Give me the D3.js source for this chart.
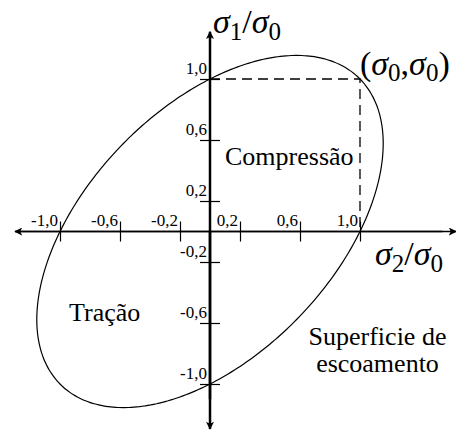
<!DOCTYPE html>
<html>
<head>
<meta charset="utf-8">
<script src="https://cdn.jsdelivr.net/npm/d3@7"></script>
<style>
  html, body { margin: 0; padding: 0; background: #fff; }
  svg { display: block; }
  text { font-family: "Liberation Serif", "Times New Roman", serif; fill: #000; }
</style>
</head>
<body>
<svg id="chart" width="456" height="432"></svg>
<script>
// Tick values on each stress axis (normalised by the yield stress σ0)
const xTickValues = [-1.0, -0.6, -0.2, 0.2, 0.6, 1.0];
const yTickValues = [1.0, 0.6, 0.2, -0.2, -0.6, -1.0];
// Von Mises yield surface: semi-axes of the ellipse along the (1,1) and (1,-1) directions
const ellipseSemiAxes = [Math.SQRT2, Math.sqrt(2 / 3)];
// Equibiaxial corner point (σ0, σ0)
const cornerPoint = [1.0, 1.0];
// Region labels
const regionLabels = ["Compressão", "Tração"];
const surfaceLabel = ["Superficie de", "escoamento"];

const svg = d3.select("#chart");

// σ2/σ0 horizontal, σ1/σ0 vertical
const x = d3.scaleLinear().domain([-1, 1]).range([60, 360]);
const y = d3.scaleLinear().domain([-1, 1]).range([384, 79]);
const ox = x(0), oy = y(0);

const fmt = v => d3.format(".1f")(v).replace(".", ",").replace("−", "-");

// Arrow heads
const defs = svg.append("defs");
defs.append("marker")
  .attr("id", "arrow")
  .attr("viewBox", "0 0 10 10")
  .attr("refX", 9).attr("refY", 5)
  .attr("markerWidth", 8).attr("markerHeight", 8)
  .attr("markerUnits", "userSpaceOnUse")
  .attr("orient", "auto")
  .append("path")
  .attr("d", "M0,0 L10,5 L0,10 L2.5,5 Z")
  .attr("fill", "#000");

// Yield ellipse
const ellipsePts = d3.range(0, 360, 2).map(deg => {
  const t = deg * Math.PI / 180;
  const u = ellipseSemiAxes[0] * Math.cos(t);
  const v = ellipseSemiAxes[1] * Math.sin(t);
  return [(u - v) / Math.SQRT2, (u + v) / Math.SQRT2]; // [σ2, σ1]
});
svg.append("path")
  .datum(ellipsePts)
  .attr("d", d3.line().x(d => x(d[0])).y(d => y(d[1])).curve(d3.curveCardinalClosed.tension(0.5)))
  .attr("fill", "none")
  .attr("stroke", "#000")
  .attr("stroke-width", 1.2);

// Dashed guide lines to the corner point
svg.append("path")
  .attr("d", d3.line()([[x(0), y(cornerPoint[1])], [x(cornerPoint[0]), y(cornerPoint[1])], [x(cornerPoint[0]), y(0)]]))
  .attr("fill", "none")
  .attr("stroke", "#000")
  .attr("stroke-width", 1.3)
  .attr("stroke-dasharray", "10,6");

// Horizontal axis (σ2/σ0)
svg.append("line")
  .attr("x1", x(1.55)).attr("y1", oy)
  .attr("x2", x(-1.3)).attr("y2", oy)
  .attr("stroke", "#000").attr("stroke-width", 1.3)
  .attr("marker-end", "url(#arrow)");
svg.append("line")
  .attr("x1", x(-1.3)).attr("y1", oy)
  .attr("x2", x(1.64)).attr("y2", oy)
  .attr("stroke", "#000").attr("stroke-width", 1.3)
  .attr("marker-end", "url(#arrow)");

const xAxis = svg.append("g")
  .attr("transform", `translate(0,${oy})`)
  .call(d3.axisBottom(x).tickValues(xTickValues).tickSizeOuter(0).tickSize(10).tickFormat(fmt));
xAxis.select(".domain").remove();
xAxis.selectAll(".tick line").attr("y1", -10).attr("y2", 10).attr("stroke-width", 1.2);
xAxis.selectAll(".tick text")
  .attr("x", -2.5).attr("y", -6).attr("dy", null)
  .attr("text-anchor", "end")
  .style("font-family", "Liberation Serif")
  .style("font-size", "17px");

// Vertical axis (σ1/σ0)
svg.append("line")
  .attr("x1", ox).attr("y1", y(-1.1))
  .attr("x2", ox).attr("y2", y(1.31))
  .attr("stroke", "#000").attr("stroke-width", 2.5)
  .attr("marker-end", "url(#arrow)");
svg.append("line")
  .attr("x1", ox).attr("y1", y(0))
  .attr("x2", ox).attr("y2", y(-1.295))
  .attr("stroke", "#000").attr("stroke-width", 2.5)
  .attr("marker-end", "url(#arrow)");

const yAxis = svg.append("g")
  .attr("transform", `translate(${ox},0)`)
  .call(d3.axisLeft(y).tickValues(yTickValues).tickSizeOuter(0).tickSize(10).tickFormat(fmt));
yAxis.select(".domain").remove();
yAxis.selectAll(".tick line").attr("x1", -10).attr("x2", 10).attr("stroke-width", 1.2);
yAxis.selectAll(".tick text")
  .attr("x", -3).attr("y", -6).attr("dy", null)
  .attr("text-anchor", "end")
  .style("font-family", "Liberation Serif")
  .style("font-size", "17px");

// Stress ratio labels: σ italic with upright subscripts
function sigmaLabel(parent, px, py, parts) {
  const t = parent.append("text").attr("x", px).attr("y", py);
  parts.forEach(p => {
    const s = t.append("tspan").text(p.t);
    if (p.sub) s.attr("font-size", 25).attr("dy", p.dy);
    else s.attr("font-size", 34).attr("dy", p.dy || 0);
    if (p.it) s.attr("font-style", "italic");
  });
  return t;
}
sigmaLabel(svg, 213, 33, [
  { t: "σ", it: true }, { t: "1", sub: true, dy: 7 }, { t: "/", dy: -7 },
  { t: "σ", it: true }, { t: "0", sub: true, dy: 7 }
]);
sigmaLabel(svg, 375, 265, [
  { t: "σ", it: true }, { t: "2", sub: true, dy: 7 }, { t: "/", dy: -7 },
  { t: "σ", it: true }, { t: "0", sub: true, dy: 7 }
]);
sigmaLabel(svg, 360, 75, [
  { t: "(" }, { t: "σ", it: true }, { t: "0", sub: true, dy: 6 }, { t: ",", dy: -6 },
  { t: "σ", it: true }, { t: "0", sub: true, dy: 6 }, { t: ")", dy: -6 }
]);

// Region annotations
svg.append("text").attr("x", 225).attr("y", 165).attr("font-size", 26).text(regionLabels[0]);
svg.append("text").attr("x", 69).attr("y", 321).attr("font-size", 26).text(regionLabels[1]);
svg.selectAll(".surf").data(surfaceLabel).enter().append("text")
  .attr("class", "surf")
  .attr("x", 377.5).attr("y", (d, i) => 345 + i * 27)
  .attr("text-anchor", "middle")
  .attr("font-size", 26)
  .text(d => d);
</script>
</body>
</html>
